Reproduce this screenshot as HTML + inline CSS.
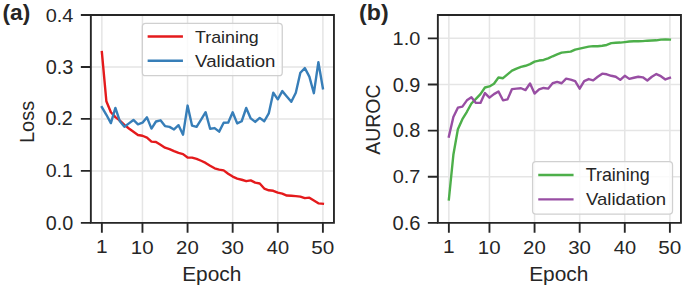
<!DOCTYPE html>
<html><head><meta charset="utf-8"><title>Loss and AUROC vs Epoch</title><style>
html,body{margin:0;padding:0;background:#fff;}
svg{display:block;font-family:"Liberation Sans",sans-serif;}
</style></head><body>
<svg width="685" height="289" viewBox="0 0 685 289">
<rect width="685" height="289" fill="#fff"/>
<path d="M101.86 15V222.85M142.46 15V222.85M187.57 15V222.85M232.67 15V222.85M277.78 15V222.85M322.89 15V222.85M90.85 222.85H333.96M90.85 170.89H333.96M90.85 118.92H333.96M90.85 66.96H333.96M90.85 15H333.96" stroke="#e5e5e5" stroke-width="1.5" fill="none"/>
<clipPath id="ca"><rect x="90.85" y="15" width="243.11" height="207.85"/></clipPath>
<polyline clip-path="url(#ca)" points="101.86,52.15 106.37,101.26 110.88,112.27 115.39,117.11 119.9,120.59 124.41,124.8 128.92,128.54 133.44,131.76 137.95,134.98 142.46,135.76 146.97,137.63 151.48,141.58 155.99,141.94 160.5,144.7 165.01,147.66 169.52,149.06 174.03,151.14 178.54,152.86 183.05,154.1 187.57,157.48 192.08,157.59 196.59,158.88 201.1,160.75 205.61,162.89 210.12,165.8 214.63,168.29 219.14,169.59 223.65,170.37 228.16,173.75 232.67,176.6 237.18,178.58 241.69,179.77 246.21,181.18 250.72,180.34 255.23,182.58 259.74,183.46 264.25,188.55 268.76,190.27 273.27,190.79 277.78,192.66 282.29,193.7 286.8,195.57 291.31,195.78 295.82,196.09 300.34,196.66 304.85,198.17 309.36,197.65 313.87,200.45 318.38,203.36 322.89,203.73" fill="none" stroke="#e41a1c" stroke-width="2.4" stroke-linejoin="round" stroke-linecap="square"/>
<polyline clip-path="url(#ca)" points="101.86,107.08 106.37,114.77 110.88,123.08 115.39,107.86 119.9,121.26 124.41,126.72 128.92,123.39 133.44,119.96 137.95,124.28 142.46,122.67 146.97,117.37 151.48,128.59 155.99,121.52 160.5,120.33 165.01,126.1 169.52,126.88 174.03,129.47 178.54,125.16 183.05,134.67 187.57,105.57 192.08,125.68 196.59,126.88 201.1,119.7 205.61,112.17 210.12,128.8 214.63,128.07 219.14,131.66 223.65,122.82 228.16,122.67 232.67,112.27 237.18,123.39 241.69,121.26 246.21,108.01 250.72,118.41 255.23,121.89 259.74,117.89 264.25,121.26 268.76,113.47 273.27,92.79 277.78,99.34 282.29,91.13 286.8,96.43 291.31,101.83 295.82,92.68 300.34,72.78 304.85,68.11 309.36,76.58 313.87,93.2 318.38,62.18 322.89,88.37" fill="none" stroke="#377eb8" stroke-width="2.4" stroke-linejoin="round" stroke-linecap="square"/>
<path d="M90.85 15H333.96V222.85H90.85Z" stroke="#262626" stroke-width="1.875" fill="none" stroke-linecap="square"/>
<path d="M101.86 222.85V232.85M142.46 222.85V232.85M187.57 222.85V232.85M232.67 222.85V232.85M277.78 222.85V232.85M322.89 222.85V232.85M90.85 222.85H80.85M90.85 170.89H80.85M90.85 118.92H80.85M90.85 66.96H80.85M90.85 15H80.85" stroke="#262626" stroke-width="1.875" fill="none"/>
<rect x="142.35" y="23.3" width="139.9" height="52.4" rx="3.3" ry="3.3" fill="#ffffff" fill-opacity="0.8" stroke="#d0d0d0" stroke-width="1.3"/>
<path d="M148.84 36.44H181.74" stroke="#e41a1c" stroke-width="2.4" stroke-linecap="square"/>
<path d="M148.84 60.74H181.74" stroke="#377eb8" stroke-width="2.4" stroke-linecap="square"/>
<path d="M448.86 15V222.85M489.46 15V222.85M534.57 15V222.85M579.67 15V222.85M624.78 15V222.85M669.89 15V222.85M437.85 222.85H680.96M437.85 176.72H680.96M437.85 130.59H680.96M437.85 84.46H680.96M437.85 38.33H680.96" stroke="#e5e5e5" stroke-width="1.5" fill="none"/>
<clipPath id="cb"><rect x="437.85" y="15" width="243.11" height="207.85"/></clipPath>
<polyline clip-path="url(#cb)" points="448.86,199.51 453.37,154.81 457.88,129.21 462.39,119.15 466.9,111.77 471.41,103.47 475.92,98.85 480.44,94.15 484.95,87.46 489.46,86.44 493.97,83.77 498.48,77.54 502.99,78.19 507.5,74.36 512.01,70.62 516.52,68.55 521.03,66.93 525.54,65.78 530.05,64.16 534.57,61.67 539.08,60.56 543.59,59.96 548.1,58.35 552.61,56.27 557.12,54.38 561.63,52.68 566.14,52.08 570.65,51.66 575.16,49.59 579.67,48.57 584.18,47.56 588.69,46.68 593.21,46.08 597.72,46.26 602.23,45.71 606.74,44.97 611.25,43.17 615.76,42.76 620.27,42.57 624.78,42.07 629.29,41.47 633.8,41.28 638.31,41.28 642.82,41.1 647.34,40.68 651.85,40.5 656.36,40.31 660.87,39.58 665.38,39.39 669.89,39.58" fill="none" stroke="#4daf4a" stroke-width="2.4" stroke-linejoin="round" stroke-linecap="square"/>
<polyline clip-path="url(#cb)" points="448.86,136.59 453.37,116.94 457.88,107.66 462.39,106.6 466.9,100.33 471.41,97.24 475.92,102.91 480.44,102.91 484.95,93.04 489.46,97.65 493.97,94.15 498.48,91.47 502.99,100.33 507.5,99.36 512.01,89.07 516.52,88.61 521.03,88.24 525.54,90.04 530.05,83.45 534.57,93.55 539.08,89.44 543.59,87.97 548.1,88.66 552.61,83.26 557.12,81.97 561.63,83.26 566.14,78.65 570.65,79.66 575.16,81.14 579.67,88.66 584.18,81.14 588.69,79.06 593.21,80.35 597.72,76.76 602.23,73.67 606.74,74.31 611.25,75.79 615.76,76.76 620.27,79.87 624.78,75.79 629.29,78.88 633.8,77.77 638.31,76.76 642.82,77.36 647.34,80.45 651.85,76.76 656.36,74.08 660.87,76.16 665.38,79.48 669.89,77.77" fill="none" stroke="#984ea3" stroke-width="2.4" stroke-linejoin="round" stroke-linecap="square"/>
<path d="M437.85 15H680.96V222.85H437.85Z" stroke="#262626" stroke-width="1.875" fill="none" stroke-linecap="square"/>
<path d="M448.86 222.85V232.85M489.46 222.85V232.85M534.57 222.85V232.85M579.67 222.85V232.85M624.78 222.85V232.85M669.89 222.85V232.85M437.85 222.85H427.85M437.85 176.72H427.85M437.85 130.59H427.85M437.85 84.46H427.85M437.85 38.33H427.85" stroke="#262626" stroke-width="1.875" fill="none"/>
<rect x="532.6" y="161.6" width="139.9" height="52.45" rx="3.3" ry="3.3" fill="#ffffff" fill-opacity="0.8" stroke="#d0d0d0" stroke-width="1.3"/>
<path d="M539.46 175.06H572.36" stroke="#4daf4a" stroke-width="2.4" stroke-linecap="square"/>
<path d="M539.46 199.36H572.36" stroke="#984ea3" stroke-width="2.4" stroke-linecap="square"/>
<g fill="#262626">
<text x="2.56" y="19.58" font-size="22.74" font-weight="bold" textLength="27.72" lengthAdjust="spacingAndGlyphs">(a)</text>
<text x="359.11" y="19.58" font-size="22.74" font-weight="bold" textLength="29.46" lengthAdjust="spacingAndGlyphs">(b)</text>
<text x="45.66" y="230.01" font-size="19.55" textLength="27.5" lengthAdjust="spacingAndGlyphs">0.0</text>
<text x="45.71" y="177.23" font-size="19.25" textLength="27.3" lengthAdjust="spacingAndGlyphs">0.1</text>
<text x="45.49" y="125.46" font-size="19.36" textLength="27.33" lengthAdjust="spacingAndGlyphs">0.2</text>
<text x="45.67" y="73.68" font-size="19.37" textLength="27.67" lengthAdjust="spacingAndGlyphs">0.3</text>
<text x="45.68" y="21.9" font-size="19.25" textLength="27.69" lengthAdjust="spacingAndGlyphs">0.4</text>
<text x="96.08" y="253.41" font-size="18.73" textLength="11.62" lengthAdjust="spacingAndGlyphs">1</text>
<text x="130.85" y="254.2" font-size="19.28" textLength="22.78" lengthAdjust="spacingAndGlyphs">10</text>
<text x="176.13" y="254.21" font-size="19.14" textLength="22.68" lengthAdjust="spacingAndGlyphs">20</text>
<text x="221.22" y="254.3" font-size="19.23" textLength="22.75" lengthAdjust="spacingAndGlyphs">30</text>
<text x="266.83" y="254.22" font-size="18.99" textLength="22.32" lengthAdjust="spacingAndGlyphs">40</text>
<text x="311.35" y="254.34" font-size="19.09" textLength="23.04" lengthAdjust="spacingAndGlyphs">50</text>
<text x="182.19" y="280.88" font-size="20.82" textLength="59.2" lengthAdjust="spacingAndGlyphs">Epoch</text>
<text x="195.04" y="42.94" font-size="17.22" textLength="63.76" lengthAdjust="spacingAndGlyphs">Training</text>
<text x="195.13" y="66.93" font-size="16.87" textLength="80.34" lengthAdjust="spacingAndGlyphs">Validation</text>
<text x="392.64" y="230.01" font-size="19.43" textLength="27.89" lengthAdjust="spacingAndGlyphs">0.6</text>
<text x="392.67" y="183.25" font-size="19.25" textLength="27.64" lengthAdjust="spacingAndGlyphs">0.7</text>
<text x="392.65" y="137.45" font-size="19.39" textLength="27.7" lengthAdjust="spacingAndGlyphs">0.8</text>
<text x="392.65" y="91.7" font-size="19.4" textLength="27.71" lengthAdjust="spacingAndGlyphs">0.9</text>
<text x="392.61" y="44.88" font-size="19.25" textLength="27.62" lengthAdjust="spacingAndGlyphs">1.0</text>
<text x="443.08" y="253.41" font-size="18.73" textLength="11.62" lengthAdjust="spacingAndGlyphs">1</text>
<text x="477.85" y="254.2" font-size="19.28" textLength="22.78" lengthAdjust="spacingAndGlyphs">10</text>
<text x="523.13" y="254.21" font-size="19.14" textLength="22.68" lengthAdjust="spacingAndGlyphs">20</text>
<text x="568.22" y="254.3" font-size="19.23" textLength="22.75" lengthAdjust="spacingAndGlyphs">30</text>
<text x="613.83" y="254.22" font-size="18.99" textLength="22.32" lengthAdjust="spacingAndGlyphs">40</text>
<text x="658.35" y="254.34" font-size="19.09" textLength="23.04" lengthAdjust="spacingAndGlyphs">50</text>
<text x="529.19" y="280.88" font-size="20.82" textLength="59.2" lengthAdjust="spacingAndGlyphs">Epoch</text>
<text x="585.67" y="180.99" font-size="17.52" textLength="63.99" lengthAdjust="spacingAndGlyphs">Training</text>
<text x="585.98" y="204.66" font-size="16.94" textLength="80.1" lengthAdjust="spacingAndGlyphs">Validation</text>
<text transform="translate(33.6,143.03) rotate(-90)" font-size="20.06" textLength="42.21" lengthAdjust="spacingAndGlyphs">Loss</text>
<text transform="translate(379.9,154.7) rotate(-90)" font-size="21.06" textLength="70.23" lengthAdjust="spacingAndGlyphs">AUROC</text>
</g>
</svg>
</body></html>
